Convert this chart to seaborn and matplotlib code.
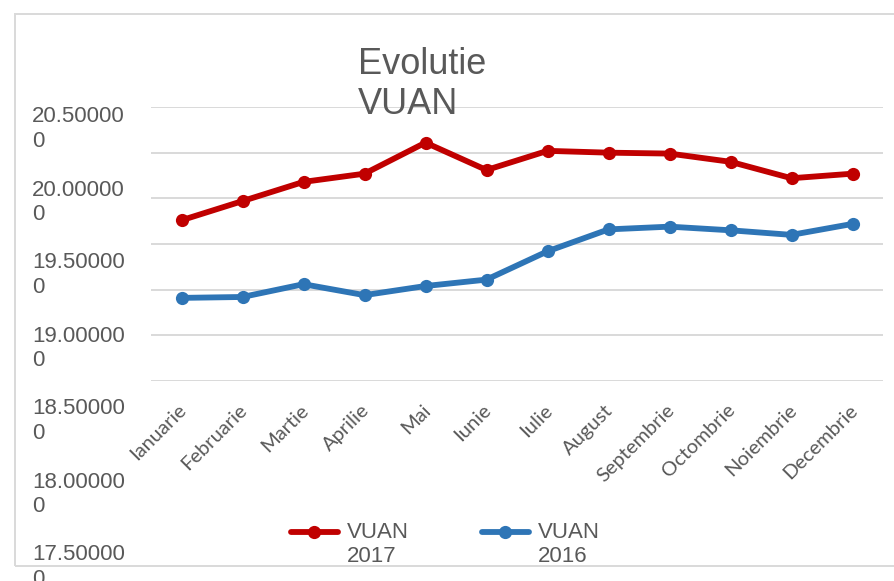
import numpy as np
import pandas as pd
import matplotlib
matplotlib.use("Agg")
import matplotlib.pyplot as plt
import matplotlib.transforms as mtransforms
from matplotlib.lines import Line2D
from matplotlib.legend_handler import HandlerLine2D
from matplotlib.patches import Rectangle
import seaborn as sns

# data
luni = ["Ianuarie", "Februarie", "Martie", "Aprilie", "Mai", "Iunie",
        "Iulie", "August", "Septembrie", "Octombrie", "Noiembrie", "Decembrie"]
vuan_2017 = [19.26, 19.47, 19.68, 19.77, 20.11, 19.81,
             20.02, 20.00, 19.99, 19.90, 19.72, 19.77]
vuan_2016 = [18.41, 18.42, 18.56, 18.44, 18.54, 18.61,
             18.92, 19.16, 19.19, 19.15, 19.10, 19.22]
serii = ["VUAN\n2017", "VUAN\n2016"]
y_ticks = [17.5, 18.0, 18.5, 19.0, 19.5, 20.0, 20.5]
y_tick_labels = ["17.50000\n0", "18.00000\n0", "18.50000\n0", "19.00000\n0",
                 "19.50000\n0", "20.00000\n0", "20.50000\n0"]

RED = "#C00000"
BLUE = "#2E75B6"
GRAY = "#595959"
GRID = "#D9D9D9"

W, H = 894, 581

sns.set_theme(style="white")
plt.rcParams["font.family"] = ["Liberation Sans", "DejaVu Sans"]

fig = plt.figure(figsize=(W / 100, H / 100), dpi=100)

# main plotting area
ax = fig.add_axes([151 / W, 1 - 381 / H, 732 / W, 274 / H])

df = pd.DataFrame({
    "luna": luni * 2,
    "idx": list(range(12)) * 2,
    "vuan": vuan_2017 + vuan_2016,
    "serie": [serii[0]] * 12 + [serii[1]] * 12,
})
sns.lineplot(data=df, x="idx", y="vuan", hue="serie", hue_order=serii,
             palette=[RED, BLUE], marker="o", markersize=9.5, markeredgewidth=0,
             linewidth=4.2, legend=False, sort=False, ax=ax)

ax.set_xlim(-0.5, 11.5)
ax.set_ylim(17.5, 20.5)
ax.set_yticks(y_ticks)
ax.set_yticklabels([])
ax.yaxis.grid(True, color=GRID, linewidth=1.4)
ax.set_axisbelow(True)
for s in ax.spines.values():
    s.set_visible(False)
ax.set_xlabel("")
ax.set_ylabel("")
ax.set_xticks(range(12))
ax.set_xticklabels(luni, rotation=45, ha="right", va="center",
                   rotation_mode="anchor", fontfamily="Lato",
                   fontsize=14.5, color=GRAY)
ax.tick_params(axis="both", length=0)
ax.tick_params(axis="x", pad=19)
shift = mtransforms.ScaledTranslation(2 / 100, 0, fig.dpi_scale_trans)
for t in ax.get_xticklabels():
    t.set_transform(t.get_transform() + shift)

# y labels (wrapped, as in the original, not aligned to the grid)
ax2 = fig.add_axes([32 / W, 1 - 563 / H, 0.01, 438 / H])
ax2.set_ylim(17.5, 20.5)
ax2.set_yticks(y_ticks)
ax2.set_yticklabels(y_tick_labels, fontsize=16, color=GRAY)
for t in ax2.get_yticklabels():
    t.set_ha("left")
    t.set_linespacing(1.2)
ax2.tick_params(axis="y", length=0, pad=0)
ax2.set_xticks([])
ax2.patch.set_visible(False)
for s in ax2.spines.values():
    s.set_visible(False)

# title
fig.text(358 / W, 1 - 47 / H, "Evolutie\nVUAN", fontsize=26, color=GRAY,
         ha="left", va="top", linespacing=1.17)


# legend, handle level with the first line of the label
def raise_handle(legend_handle, orig_handle):
    legend_handle.update_from(orig_handle)
    legend_handle.set_ydata(np.asarray(legend_handle.get_ydata()) + 9.5)


leg = fig.legend(ax.lines[:2], serii, loc="upper left",
                 bbox_to_anchor=(291 / W, 1 - 522 / H), ncol=2, frameon=False,
                 fontsize=16, labelcolor=GRAY, handlelength=2.1,
                 handletextpad=0.4, columnspacing=3.3, borderpad=0,
                 borderaxespad=0,
                 handler_map={Line2D: HandlerLine2D(update_func=raise_handle)})
clip = mtransforms.TransformedBbox(
    mtransforms.Bbox.from_extents(0, 1 - 566 / H, 1, 1), fig.transFigure)
for t in leg.get_texts():
    t.set_clip_box(clip)
    t.set_clip_on(True)

# chart frame
fig.add_artist(Rectangle((15 / W, 1 - 566 / H), 1.0, 552 / H,
                         transform=fig.transFigure, fill=False,
                         edgecolor=GRID, linewidth=1.4))

fig.savefig("out.png", dpi=100)
